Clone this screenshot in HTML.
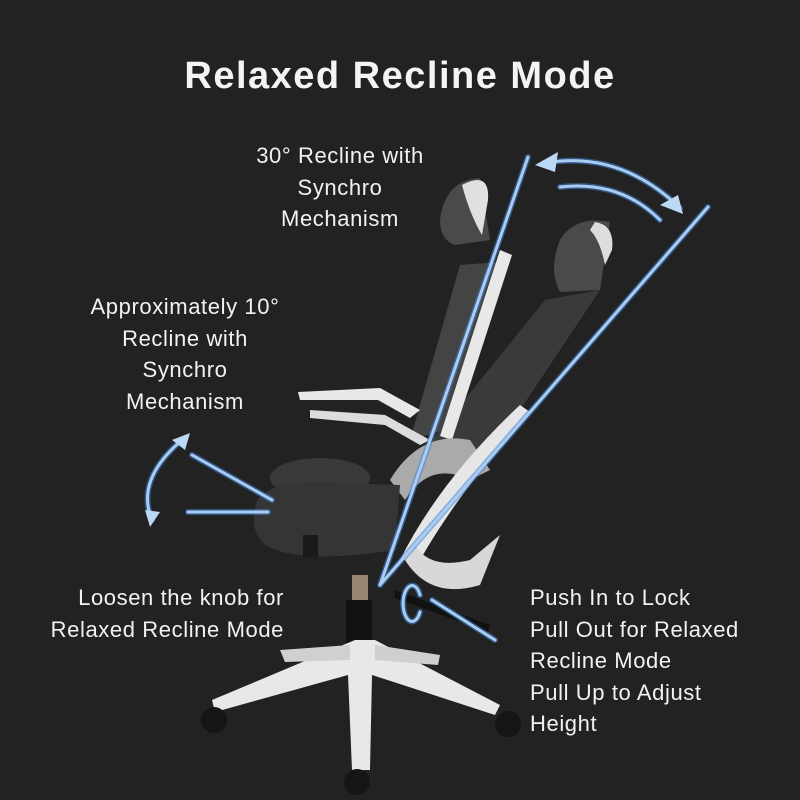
<!DOCTYPE html>
<html><head><style>
body{margin:0;background:#222222;}
.w{position:relative;width:800px;height:800px;overflow:hidden;background:#222222;font-family:"Liberation Sans",sans-serif;color:#f2f2f2;}
.t{position:absolute;text-align:center;font-size:22px;line-height:31.5px;letter-spacing:0.6px;white-space:nowrap;}
</style></head><body><div class="w">
<svg width="800" height="800" style="position:absolute;left:0;top:0">
<path d="M545 300 L600 290 L480 470 L420 455 Z" fill="#3a3a3a"/>
<path d="M560 240 Q575 215 610 222 L600 290 L560 292 Q548 270 560 240Z" fill="#4a4a4a"/>
<path d="M595 222 Q615 225 612 250 L605 265 Q600 240 590 230Z" fill="#ddd"/>
<path d="M460 265 L500 262 L445 430 L410 440 Z" fill="#444"/>
<path d="M440 220 Q445 180 480 178 L490 240 L455 245 Q440 240 440 220Z" fill="#4a4a4a"/>
<path d="M462 185 Q490 170 488 200 L482 235 Q470 215 462 185Z" fill="#e0e0e0"/>
<path d="M500 250 L512 255 L452 440 L440 436Z" fill="#e8e8e8"/>
<path d="M298 392 L380 388 L420 410 L410 418 L378 400 L300 400Z" fill="#e8e8e8"/>
<path d="M310 410 L385 415 L430 440 L420 445 L385 425 L310 418Z" fill="#dcdcdc"/>
<path d="M390 480 Q420 430 470 440 L490 470 L470 480 Q430 460 405 500Z" fill="#aaa"/>
<path d="M400 560 Q440 480 520 405 L530 412 Q460 490 420 560Z" fill="#e6e6e6"/>
<path d="M405 560 Q430 600 480 585 L500 535 L470 560 Q430 570 415 545Z" fill="#d8d8d8"/>
<ellipse cx="320" cy="478" rx="50" ry="20" fill="#3a3a3a"/>
<path d="M255 510 Q255 485 310 482 L400 485 L395 550 Q300 565 265 545 Q250 530 255 510Z" fill="#353535"/>
<rect x="303" y="535" width="15" height="22" fill="#1a1a1a"/>
<rect x="352" y="575" width="16" height="30" fill="#9a8670"/>
<rect x="346" y="600" width="26" height="52" fill="#111"/>
<path d="M355 640 L375 640 L500 705 L495 715 L372 675 L370 770 L352 770 L348 675 L215 712 L212 700 Z" fill="#e8e8e8"/>
<path d="M280 650 L350 645 L350 660 L285 662Z" fill="#d0d0d0"/>
<path d="M375 645 L440 655 L438 665 L375 660Z" fill="#cfcfcf"/>
<circle cx="214" cy="720" r="13" fill="#151515"/>
<circle cx="508" cy="724" r="13" fill="#151515"/>
<circle cx="357" cy="782" r="13" fill="#151515"/>
<path d="M395 590 L490 625 L488 632 L395 598Z" fill="#111"/>
<g stroke="#3f7fcf" stroke-width="6" fill="none" stroke-linecap="round" opacity=".55">
<line x1="380" y1="585" x2="528" y2="157"/><line x1="380" y1="585" x2="708" y2="207"/>
<path d="M545 163 Q620 150 680 208"/><path d="M560 187 Q620 180 660 220"/>
<path d="M182 440 Q135 480 152 520"/>
<line x1="192" y1="455" x2="272" y2="500"/><line x1="188" y1="512" x2="268" y2="512"/>
<line x1="432" y1="600" x2="495" y2="640"/><path d="M420 612 A9 18 0 1 1 420 595"/>
</g>
<g stroke="#a9cdf2" stroke-width="3" fill="none" stroke-linecap="round">
<line x1="380" y1="585" x2="528" y2="157"/><line x1="380" y1="585" x2="708" y2="207"/>
<path d="M545 163 Q620 150 680 208"/><path d="M560 187 Q620 180 660 220"/>
<path d="M182 440 Q135 480 152 520"/>
<line x1="192" y1="455" x2="272" y2="500"/><line x1="188" y1="512" x2="268" y2="512"/>
<line x1="432" y1="600" x2="495" y2="640"/><path d="M420 612 A9 18 0 1 1 420 595"/>
</g>
<g fill="#bcd8f5">
<polygon points="535,165 558,152 555,172"/>
<polygon points="683,214 660,205 678,195"/>
<polygon points="190,433 172,440 185,450"/>
<polygon points="150,527 145,510 160,512"/>
</g>
</svg>
<div style="position:absolute;left:0;top:55px;width:800px;text-align:center;font-size:38px;letter-spacing:1.5px;font-weight:bold;color:#f4f4f4">Relaxed Recline Mode</div>
<div class="t" style="left:190px;top:140px;width:300px">30° Recline with<br>Synchro<br>Mechanism</div>
<div class="t" style="left:35px;top:291px;width:300px">Approximately 10°<br>Recline with<br>Synchro<br>Mechanism</div>
<div class="t" style="left:0px;top:582px;width:284px;text-align:right">Loosen the knob for<br>Relaxed Recline Mode</div>
<div class="t" style="left:530px;top:582px;width:270px;text-align:left">Push In to Lock<br>Pull Out for Relaxed<br>Recline Mode<br>Pull Up to Adjust<br>Height</div>
</div></body></html>
